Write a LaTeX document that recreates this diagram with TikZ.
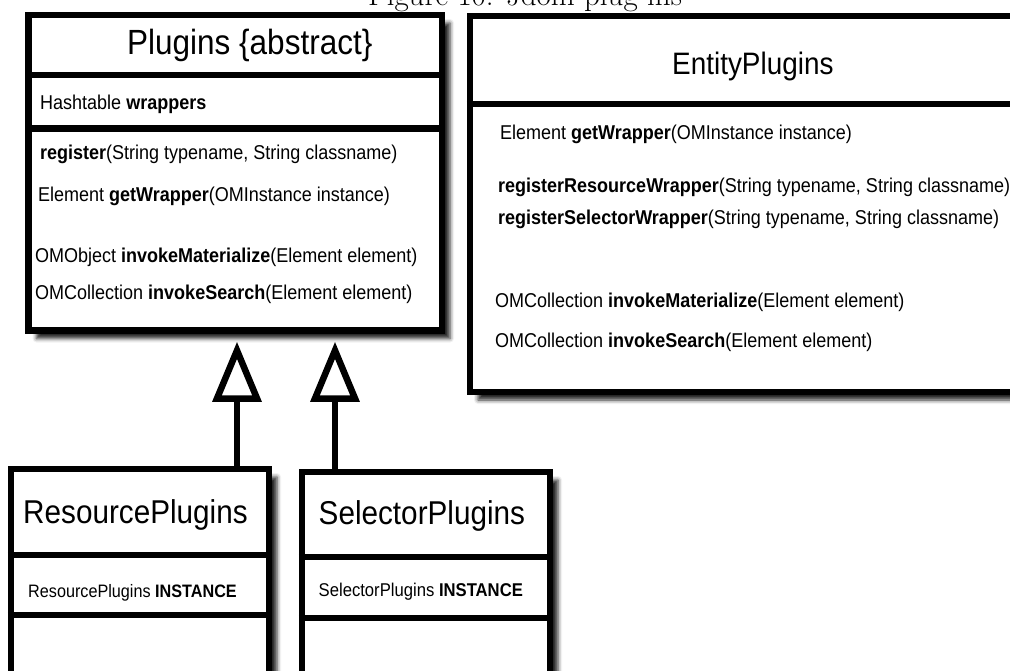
\documentclass[tikz,border=0pt]{standalone}
\usepackage{fontspec}
\usetikzlibrary{arrows.meta,shadows.blur}
\newfontfamily\umlfont{Liberation Sans}[FakeStretch=0.9]
\newcommand{\umlsize}[1]{\umlfont\fontsize{#1}{#1}\selectfont}

\begin{document}
\begin{tikzpicture}[x=1pt,y=-1pt,
  box/.style={draw,line width=6.5pt,fill=white,inner sep=0pt,
    blur shadow={shadow xshift=8pt,shadow yshift=-8pt,shadow blur radius=4pt,shadow opacity=85}},
  bar/.style={line width=6.5pt},
  cls/.style={inner sep=0pt,anchor=base west,font=\umlsize{33}},
  mem/.style={inner sep=0pt,anchor=base west,font=\umlsize{20}},
  inherit/.style={line width=6.5pt,-{Triangle[open,length=60pt,width=48pt]},shorten >=8pt}]
\useasboundingbox (0,0) rectangle (1010,671);
\clip (0,0) rectangle (1010,671);
\node[inner sep=0pt,anchor=base,font=\fontsize{31}{34}\selectfont] (cap) at (525,6) {Figure 10: Jdom plug-ins};
% class boxes
\node[box,minimum width=570pt,minimum height=376pt] (e) at (755,204) {};
\node[box,minimum width=413.5pt,minimum height=315.5pt] (p) at (235.25,172.75) {};
\node[box,minimum width=258pt,minimum height=231pt] (r) at (140,584.5) {};
\node[box,minimum width=248pt,minimum height=228pt] (s) at (426,586) {};
\draw[bar] (p.west |- 0,75) -- (p.east |- 0,75);
\draw[bar] (p.west |- 0,128.5) -- (p.east |- 0,128.5);
\draw[bar] (e.west |- 0,104) -- (e.east |- 0,104);
\draw[bar] (r.west |- 0,555) -- (r.east |- 0,555);
\draw[bar] (r.west |- 0,615) -- (r.east |- 0,615);
\draw[bar] (s.west |- 0,557) -- (s.east |- 0,557);
\draw[bar] (s.west |- 0,618) -- (s.east |- 0,618);
% names
\node[cls,font=\umlsize{35}] (pn) at (127,55) {Plugins \{abstract\}};
\node[cls,font=\umlsize{31}] (en) at (672,75) {EntityPlugins};
\node[cls] (rn) at (23,523) {ResourcePlugins};
\node[cls] (sn) at (318.5,524) {SelectorPlugins};
% members
\node[mem] (p1) at (40,110) {Hashtable \textbf{wrappers}};
\node[mem] (p2) at (40,160) {\textbf{register}(String typename, String classname)};
\node[mem] (p3) at (38,202) {Element \textbf{getWrapper}(OMInstance instance)};
\node[mem] (p4) at (35,263) {OMObject \textbf{invokeMaterialize}(Element element)};
\node[mem] (p5) at (35,300) {OMCollection \textbf{invokeSearch}(Element element)};
\node[mem] (e1) at (500,140) {Element \textbf{getWrapper}(OMInstance instance)};
\node[mem] (e2) at (498,193) {\textbf{registerResourceWrapper}(String typename, String classname)};
\node[mem] (e3) at (498,225) {\textbf{registerSelectorWrapper}(String typename, String classname)};
\node[mem] (e4) at (495,308) {OMCollection \textbf{invokeMaterialize}(Element element)};
\node[mem] (e5) at (495,348) {OMCollection \textbf{invokeSearch}(Element element)};
\node[mem,font=\umlsize{18}] (r1) at (28,597) {ResourcePlugins \textbf{INSTANCE}};
\node[mem,font=\umlsize{18.5}] (s1) at (318.5,596) {SelectorPlugins \textbf{INSTANCE}};
% generalisation
\draw[inherit] (237,0 |- r.north) -- (237,0 |- p.south);
\draw[inherit] (335,0 |- s.north) -- (335,0 |- p.south);
\end{tikzpicture}
\end{document}
